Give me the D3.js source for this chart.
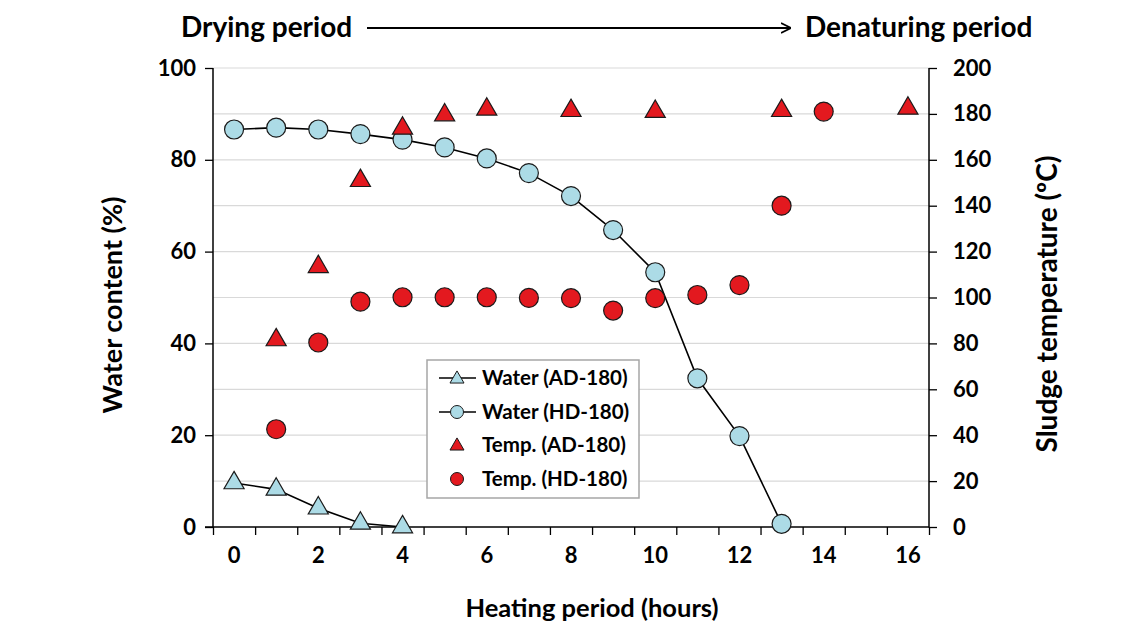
<!DOCTYPE html>
<html>
<head>
<meta charset="utf-8">
<script src="https://cdn.jsdelivr.net/npm/d3@7"></script>
<style>
	body { margin: 0; background: #fff; }
	text { font-family: Lato, "Open Sans", sans-serif; font-weight: 700; fill: #000; }
</style>
</head>
<body>
<div id="chart"></div>
<script>
// categories on the x axis (hours), labels every second one
var hours = d3.range(0, 17);
var hourLabels = [0, 2, 4, 6, 8, 10, 12, 14, 16];
var waterTicks = [0, 20, 40, 60, 80, 100];
var tempTicks = [0, 20, 40, 60, 80, 100, 120, 140, 160, 180, 200];

// water content (%)
var waterAD = [[0, 9.6], [1, 8.2], [2, 4.1], [3, 0.8], [4, 0]];
var waterHD = [[0, 86.6], [1, 87.0], [2, 86.6], [3, 85.6], [4, 84.4], [5, 82.7], [6, 80.3],
	[7, 77.1], [8, 72.1], [9, 64.7], [10, 55.5], [11, 32.4], [12, 19.8], [13, 0.7]];

// sludge temperature (deg C)
var tempAD = [[1, 81.5], [2, 113.4], [3, 150.9], [4, 173.7], [5, 179.5], [6, 182],
	[8, 181.4], [10, 181], [13, 181.4], [16, 182.4]];
var tempHD = [[1, 42.6], [2, 80.4], [3, 98.2], [4, 100.1], [5, 100.1], [6, 100.1], [7, 99.8],
	[8, 99.7], [9, 94.3], [10, 99.7], [11, 101.1], [12, 105.4], [13, 140], [14, 181]];

var legendNames = ["Water (AD-180)", "Water (HD-180)", "Temp. (AD-180)", "Temp. (HD-180)"];

var red = "#e3191f", blue = "#acdbe6";

var svg = d3.select("#chart").append("svg")
	.attr("width", 1140)
	.attr("height", 628);

var plotLeft = 213, plotRight = 929, plotTop = 68, plotBottom = 527;

var x = d3.scaleBand().domain(hours).range([plotLeft, plotRight]);
var xEdge = d3.scaleLinear().domain([0, 17]).range([plotLeft, plotRight]);
var yW = d3.scaleLinear().domain([0, 100]).range([plotBottom, plotTop]);
var yT = d3.scaleLinear().domain([0, 200]).range([plotBottom, plotTop]);
function cx(h) { return x(h) + x.bandwidth() / 2; }

// gridlines
svg.append("g")
	.selectAll("line")
	.data(tempTicks.filter(function (d) { return d > 0; }))
	.enter()
	.append("line")
	.attr("x1", plotLeft).attr("x2", plotRight)
	.attr("y1", function (d) { return yT(d); })
	.attr("y2", function (d) { return yT(d); })
	.attr("stroke", "#d9d9d9")
	.attr("stroke-width", 1.2);

// axes
var axL = svg.append("g")
	.attr("transform", "translate(" + plotLeft + ",0)")
	.call(d3.axisLeft(yW).tickValues(waterTicks).tickSize(8).tickPadding(9));
var axR = svg.append("g")
	.attr("transform", "translate(" + plotRight + ",0)")
	.call(d3.axisRight(yT).tickValues(tempTicks).tickSize(8).tickPadding(16));
var axB = svg.append("g")
	.attr("transform", "translate(0," + plotBottom + ")")
	.call(d3.axisBottom(xEdge).tickValues(d3.range(0, 18)).tickSize(8).tickFormat(""));
var axBL = svg.append("g")
	.attr("transform", "translate(0," + plotBottom + ")")
	.call(d3.axisBottom(x).tickValues(hourLabels).tickSize(0).tickPadding(20));
axBL.select(".domain").remove();

[axL, axR, axB, axBL].forEach(function (a) {
	a.selectAll("path.domain").attr("stroke", "#000").attr("stroke-width", 1.5);
	a.selectAll(".tick line").attr("stroke", "#000").attr("stroke-width", 1.3);
	a.selectAll("text").style("font-size", "22px").style("font-family", "Lato, sans-serif")
		.style("font-weight", 700).attr("fill", "#000");
});
axL.select(".domain").attr("d", "M0," + plotTop + "V" + (plotBottom + 0.5));
axR.select(".domain").attr("d", "M0," + plotTop + "V" + (plotBottom + 0.5));
axB.select(".domain").attr("d", "M" + (plotLeft - 8) + ",0H" + plotRight);

// lines
var lineW = d3.line()
	.x(function (d) { return cx(d[0]); })
	.y(function (d) { return yW(d[1]); });

svg.append("path").datum(waterAD).attr("d", lineW)
	.attr("fill", "none").attr("stroke", "#000").attr("stroke-width", 1.6);
svg.append("path").datum(waterHD).attr("d", lineW)
	.attr("fill", "none").attr("stroke", "#000").attr("stroke-width", 1.6);

var tri = d3.symbol().type(d3.symbolTriangle).size(175);
var triSmall = d3.symbol().type(d3.symbolTriangle).size(85);

function triangles(data, yScale, fill) {
	svg.append("g").selectAll("path")
		.data(data)
		.enter()
		.append("path")
		.attr("d", tri)
		.attr("transform", function (d) { return "translate(" + cx(d[0]) + "," + yScale(d[1]) + ")"; })
		.attr("fill", fill)
		.attr("stroke", "#1a1a1a")
		.attr("stroke-width", 1.2);
}

function circles(data, yScale, fill) {
	svg.append("g").selectAll("circle")
		.data(data)
		.enter()
		.append("circle")
		.attr("cx", function (d) { return cx(d[0]); })
		.attr("cy", function (d) { return yScale(d[1]); })
		.attr("r", 9.5)
		.attr("fill", fill)
		.attr("stroke", "#1a1a1a")
		.attr("stroke-width", 1.2);
}

circles(waterHD, yW, blue);
triangles(tempAD, yT, red);
circles(tempHD, yT, red);
triangles(waterAD, yW, blue);

// legend
var lg = svg.append("g").attr("transform", "translate(427,360)");
lg.append("rect")
	.attr("width", 212).attr("height", 138)
	.attr("fill", "#fff").attr("stroke", "#a6a6a6").attr("stroke-width", 1.5);

var rows = [18, 52, 85, 119];
legendNames.forEach(function (name, i) {
	var g = lg.append("g").attr("transform", "translate(0," + rows[i] + ")");
	if (i < 2) {
		g.append("line").attr("x1", 12).attr("x2", 49).attr("y1", 0).attr("y2", 0)
			.attr("stroke", "#000").attr("stroke-width", 1.5);
	}
	var fill = i < 2 ? blue : red;
	if (i % 2 === 0) {
		g.append("path").attr("d", triSmall).attr("transform", "translate(30,1)")
			.attr("fill", fill).attr("stroke", "#1a1a1a").attr("stroke-width", 1);
	} else {
		g.append("circle").attr("cx", 30).attr("cy", 0).attr("r", 6.5)
			.attr("fill", fill).attr("stroke", "#1a1a1a").attr("stroke-width", 1);
	}
	g.append("text")
		.attr("x", 55).attr("y", 7)
		.style("font-size", "20.5px")
		.text(name);
});

// axis titles
svg.append("text")
	.attr("text-anchor", "middle")
	.attr("x", 592).attr("y", 617)
	.style("font-size", "25.5px")
	.text("Heating period (hours)");

svg.append("text")
	.attr("text-anchor", "middle")
	.attr("transform", "translate(122,305) rotate(-90)")
	.style("font-size", "27px")
	.text("Water content (%)");

svg.append("text")
	.attr("text-anchor", "middle")
	.attr("transform", "translate(1057,304) rotate(-90)")
	.style("font-size", "28px")
	.text("Sludge temperature (\u00baC)");

// period header
svg.append("defs").append("marker")
	.attr("id", "arrow")
	.attr("viewBox", "0 0 10 10")
	.attr("refX", 9).attr("refY", 5)
	.attr("markerWidth", 10).attr("markerHeight", 12)
	.attr("markerUnits", "userSpaceOnUse")
	.attr("orient", "auto")
	.append("path")
	.attr("d", "M0,0L10,5L0,10")
	.attr("fill", "none").attr("stroke", "#000").attr("stroke-width", 1.8);

svg.append("text")
	.attr("x", 181).attr("y", 37)
	.style("font-size", "28px")
	.text("Drying period");

svg.append("line")
	.attr("x1", 367).attr("x2", 790).attr("y1", 28).attr("y2", 28)
	.attr("stroke", "#000").attr("stroke-width", 2)
	.attr("marker-end", "url(#arrow)");

svg.append("text")
	.attr("x", 805).attr("y", 37)
	.style("font-size", "28px")
	.text("Denaturing period");
</script>
</body>
</html>
